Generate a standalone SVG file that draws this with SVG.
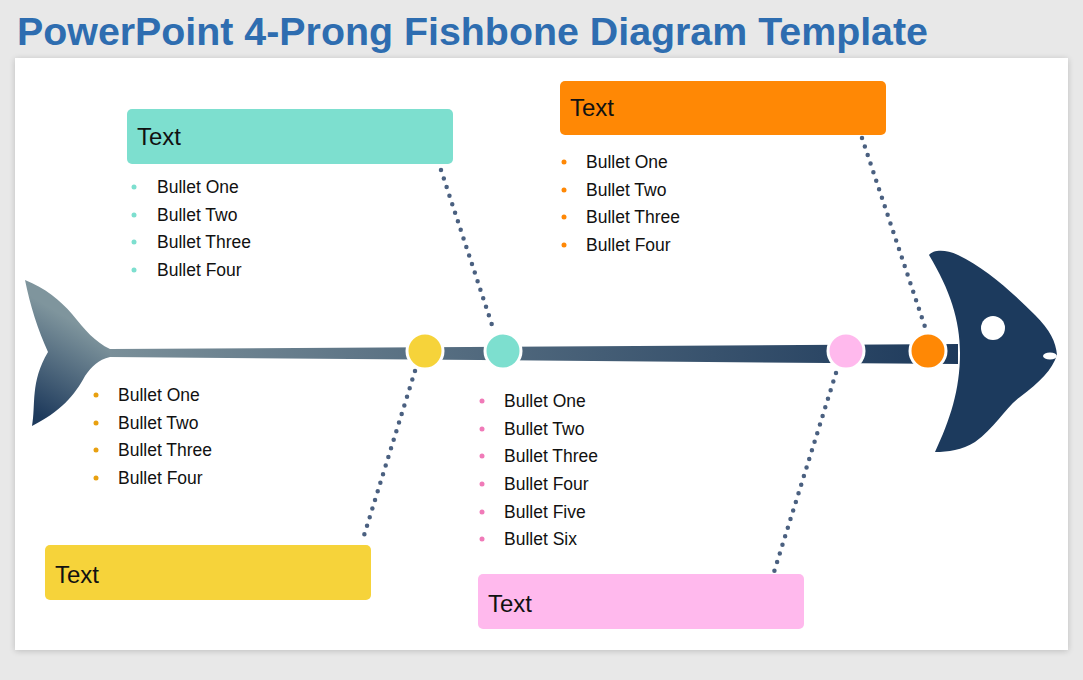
<svg xmlns="http://www.w3.org/2000/svg" width="1083" height="680" viewBox="0 0 1083 680">
<defs>
<linearGradient id="tailG" x1="38" y1="415" x2="88" y2="330" gradientUnits="userSpaceOnUse">
<stop offset="0" stop-color="#1e3a5c"/>
<stop offset="1" stop-color="#7f959d"/>
</linearGradient>
<linearGradient id="spineG" x1="110" y1="0" x2="960" y2="0" gradientUnits="userSpaceOnUse">
<stop offset="0" stop-color="#7a8f99"/>
<stop offset="1" stop-color="#1d395b"/>
</linearGradient>
<filter id="sh" x="-5%" y="-5%" width="110%" height="110%">
<feGaussianBlur stdDeviation="3"/>
</filter>
<style>
.t{font-family:"Liberation Sans",Arial,sans-serif;fill:#111}
.hd{font-size:24px}
.bl{font-size:17.5px}
.con{fill:none;stroke:#4a6080;stroke-width:4.5;stroke-linecap:round;stroke-dasharray:0 9}
.jn{stroke:#fff;stroke-width:3}
</style>
</defs>
<rect width="1083" height="680" fill="#e8e8e8"/>
<rect x="15" y="59" width="1053" height="592" fill="#000" opacity="0.18" filter="url(#sh)"/>
<rect x="15" y="58" width="1053" height="592" fill="#fff"/>
<text x="17" y="45" font-family="'Liberation Sans',Arial,sans-serif" font-weight="bold" font-size="39.5" fill="#2e6db0" textLength="911" lengthAdjust="spacingAndGlyphs">PowerPoint 4-Prong Fishbone Diagram Template</text>

<g id="fish">
<path d="M110,349 L958,344 L958,364 L110,357 Z" fill="url(#spineG)"/>
<path d="M25,280 C45,288 60,300 72,314 C85,330 95,342 110,349 L110,357 C98,360 92,366 85,376 C75,395 60,412 32,426 C36,405 30,382 48,352 C38,330 30,305 25,280 Z" fill="url(#tailG)"/>
<path d="M929,255 C933,250 945,249 958,255 C985,268 1010,290 1035,315 C1050,330 1056,342 1057,355 C1052,370 1040,382 1020,397 C1005,408 995,428 975,442 C962,450 948,452 935,452 C950,420 960,390 960,353 C960,320 950,290 929,255 Z" fill="#1c3a5d"/>
<circle cx="993" cy="328" r="12" fill="#fff"/>
<ellipse cx="1050" cy="356" rx="7" ry="3.5" fill="#fff"/>
</g>

<g id="connectors">
<line class="con" x1="441" y1="170" x2="494" y2="331"/>
<line class="con" x1="862" y1="138" x2="926" y2="330"/>
<line class="con" x1="415" y1="371" x2="362" y2="542"/>
<line class="con" x1="836" y1="373" x2="774" y2="572"/>
</g>

<g id="junctions">
<circle class="jn" cx="425" cy="351" r="18" fill="#f6d33a"/>
<circle class="jn" cx="503" cy="351" r="18" fill="#7ddfcf"/>
<circle class="jn" cx="846" cy="351" r="18" fill="#ffb9ed"/>
<circle class="jn" cx="928" cy="351" r="18" fill="#ff8805"/>
</g>

<g id="node-teal">
<rect x="127" y="109" width="326" height="55" rx="5" fill="#7ddfcf"/>
<text class="t hd" x="137" y="145">Text</text>
<g fill="#7ddfcf"><circle cx="134" cy="187" r="2.5"/><circle cx="134" cy="215" r="2.5"/><circle cx="134" cy="242" r="2.5"/><circle cx="134" cy="270" r="2.5"/></g>
<text class="t bl" x="157" y="193">Bullet One</text>
<text class="t bl" x="157" y="221">Bullet Two</text>
<text class="t bl" x="157" y="248">Bullet Three</text>
<text class="t bl" x="157" y="276">Bullet Four</text>
</g>

<g id="node-orange">
<rect x="560" y="81" width="326" height="54" rx="5" fill="#ff8805"/>
<text class="t hd" x="570" y="116">Text</text>
<g fill="#ff8805"><circle cx="564" cy="162" r="2.5"/><circle cx="564" cy="190" r="2.5"/><circle cx="564" cy="217" r="2.5"/><circle cx="564" cy="245" r="2.5"/></g>
<text class="t bl" x="586" y="168">Bullet One</text>
<text class="t bl" x="586" y="196">Bullet Two</text>
<text class="t bl" x="586" y="223">Bullet Three</text>
<text class="t bl" x="586" y="251">Bullet Four</text>
</g>

<g id="node-yellow">
<rect x="45" y="545" width="326" height="55" rx="5" fill="#f6d33a"/>
<text class="t hd" x="55" y="583">Text</text>
<g fill="#e8a010"><circle cx="96" cy="395" r="2.5"/><circle cx="96" cy="423" r="2.5"/><circle cx="96" cy="450" r="2.5"/><circle cx="96" cy="478" r="2.5"/></g>
<text class="t bl" x="118" y="401">Bullet One</text>
<text class="t bl" x="118" y="429">Bullet Two</text>
<text class="t bl" x="118" y="456">Bullet Three</text>
<text class="t bl" x="118" y="484">Bullet Four</text>
</g>

<g id="node-pink">
<rect x="478" y="574" width="326" height="55" rx="5" fill="#ffb9ed"/>
<text class="t hd" x="488" y="612">Text</text>
<g fill="#f07ab8"><circle cx="482" cy="401" r="2.5"/><circle cx="482" cy="429" r="2.5"/><circle cx="482" cy="456" r="2.5"/><circle cx="482" cy="484" r="2.5"/><circle cx="482" cy="512" r="2.5"/><circle cx="482" cy="539" r="2.5"/></g>
<text class="t bl" x="504" y="407">Bullet One</text>
<text class="t bl" x="504" y="435">Bullet Two</text>
<text class="t bl" x="504" y="462">Bullet Three</text>
<text class="t bl" x="504" y="490">Bullet Four</text>
<text class="t bl" x="504" y="518">Bullet Five</text>
<text class="t bl" x="504" y="545">Bullet Six</text>
</g>
</svg>
